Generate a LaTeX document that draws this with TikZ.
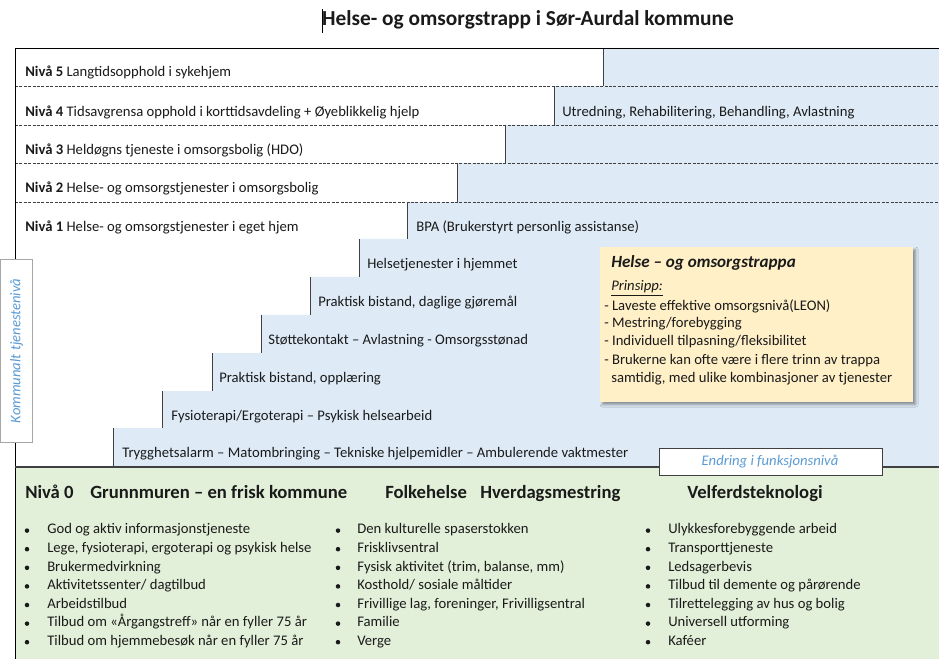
\documentclass[tikz,border=0pt]{standalone}
\usepackage{fontspec}
\setmainfont{Carlito}
\usetikzlibrary{shadows.blur}
\definecolor{stairblue}{HTML}{DEEBF7}
\definecolor{basegreen}{HTML}{E2F0D9}
\definecolor{noteyellow}{HTML}{FFF0C8}
\definecolor{labelblue}{HTML}{5B9BD5}
\definecolor{ink}{HTML}{1A1A1A}
\definecolor{edgegray}{HTML}{404040}
\begin{document}
\begin{tikzpicture}[x=0.75pt,y=-0.75pt,
  rowtext/.style={anchor=west, inner sep=0pt, yshift=-1.2pt, text=ink, text height=0.7em, text depth=0.2em, font=\fontsize{11}{13}\selectfont},
  headtext/.style={anchor=west, inner sep=0pt, yshift=-1.2pt, text=ink, text height=0.7em, text depth=0.2em, font=\fontsize{14}{16}\selectfont\bfseries},
  bullettext/.style={anchor=west, inner sep=0pt, yshift=-1.2pt, text=ink, text height=0.7em, text depth=0.2em, font=\fontsize{11}{13}\selectfont},
  bulletdot/.style={circle, fill=ink, inner sep=0pt, yshift=-1.2pt, minimum size=3.4pt},
  notetext/.style={anchor=west, inner sep=0pt, yshift=-1pt, text=ink, text height=0.7em, text depth=0.2em, font=\fontsize{11}{13}\selectfont},
  stepedge/.style={draw=edgegray, line width=0.6pt},
  rowsep/.style={draw=edgegray, dash pattern=on 2.2pt off 1.1pt, line width=0.5pt}
]
\useasboundingbox (0,0) rectangle (939,659);
\fill[white] (0,0) rectangle (939,659);

% title
\node[anchor=center, inner sep=0pt, text=ink, font=\fontsize{16}{18}\selectfont\bfseries] (title) at (528,20) {Helse- og omsorgstrapp i Sør-Aurdal kommune};
\draw[black, line width=0.5pt] (322,9) -- (322,33);

% blue staircase region
\fill[stairblue] (603,48) -- (939,48) -- (939,467) -- (113,467) -- (113,428) -- (162,428) -- (162,391) -- (212,391) -- (212,353) -- (261,353) -- (261,315) -- (310,315) -- (310,277) -- (359,277) -- (359,239) -- (407,239) -- (407,202) -- (457,202) -- (457,163) -- (505,163) -- (505,125) -- (554,125) -- (554,86) -- (603,86) -- cycle;

% green base
\fill[basegreen] (15,467) rectangle (939,659);

% row separators
\foreach \yy in {86,125,163,202} \draw[rowsep] (15,\yy) -- (939,\yy);

% step edges
\draw[stepedge] (603,48) -- (603,86);
\draw[stepedge] (554,86) -- (554,125);
\draw[stepedge] (505,125) -- (505,163);
\draw[stepedge] (457,163) -- (457,202);
\draw[stepedge] (407,202) -- (407,239);
\draw[stepedge] (359,239) -- (359,277);
\draw[stepedge] (310,277) -- (310,315);
\draw[stepedge] (261,315) -- (261,353);
\draw[stepedge] (212,353) -- (212,391);
\draw[stepedge] (162,391) -- (162,428);
\draw[stepedge] (113,428) -- (113,467);

% frame
\draw[black, line width=0.7pt] (939,48) -- (15,48) -- (15,659);
\draw[edgegray, line width=0.9pt] (15,467) -- (939,467);

% level rows
\node[rowtext] (n5) at (25,72) {\textbf{Nivå 5} Langtidsopphold i sykehjem};
\node[rowtext] (n4) at (25,112) {\textbf{Nivå 4} Tidsavgrensa opphold i korttidsavdeling + Øyeblikkelig hjelp};
\node[rowtext] (n3) at (25,150) {\textbf{Nivå 3} Heldøgns tjeneste i omsorgsbolig (HDO)};
\node[rowtext] (n2) at (25,188) {\textbf{Nivå 2} Helse- og omsorgstjenester i omsorgsbolig};
\node[rowtext] (n1) at (25,227) {\textbf{Nivå 1} Helse- og omsorgstjenester i eget hjem};
\node[rowtext] (utr) at (562,112) {Utredning, Rehabilitering, Behandling, Avlastning};
\node[rowtext] (bpa) at (416,227) {BPA (Brukerstyrt personlig assistanse)};
\node[rowtext] (s1) at (367,264) {Helsetjenester i hjemmet};
\node[rowtext] (s2) at (318,302) {Praktisk bistand, daglige gjøremål};
\node[rowtext] (s3) at (268,340) {Støttekontakt – Avlastning - Omsorgsstønad};
\node[rowtext] (s4) at (219,378) {Praktisk bistand, opplæring};
\node[rowtext] (s5) at (171,416) {Fysioterapi/Ergoterapi – Psykisk helsearbeid};
\node[rowtext] (s6) at (122,453) {Trygghetsalarm – Matombringing – Tekniske hjelpemidler – Ambulerende vaktmester};

% note box
\path[fill=noteyellow, blur shadow={shadow xshift=2pt, shadow yshift=-2pt, shadow blur steps=6, shadow opacity=40}] (600,247) rectangle (913,402);
\node[notetext, font=\fontsize{12.8}{15}\selectfont\bfseries\itshape] (nt) at (611,263) {Helse – og omsorgstrappa};
\node[notetext, font=\fontsize{11}{13}\selectfont\itshape] (np) at (611,286) {\underline{Prinsipp:}};
\node[notetext] (nl1) at (604,306) {- Laveste effektive omsorgsnivå(LEON)};
\node[notetext] (nl2) at (604,323) {- Mestring/forebygging};
\node[notetext] (nl3) at (604,341) {- Individuell tilpasning/fleksibilitet};
\node[notetext] (nl4) at (604,360) {- Brukerne kan ofte være i flere trinn av trappa};
\node[notetext] (nl5) at (611,378) {samtidig, med ulike kombinasjoner av tjenester};

% side label
\node[draw=gray!70, fill=white, line width=0.6pt, minimum width=32*0.75pt, minimum height=183*0.75pt, inner sep=0pt, anchor=north west] (side) at (0,259) {};
\node[rotate=90, inner sep=0pt, text=labelblue, font=\fontsize{11}{13}\selectfont\itshape] (sidet) at (side.center) {Kommunalt tjenestenivå};

% change box
\node[draw=edgegray, fill=white, line width=0.6pt, minimum width=223*0.75pt, minimum height=27*0.75pt, inner sep=0pt, anchor=north west] (chg) at (659,448) {};
\node[inner sep=0pt, text=labelblue, font=\fontsize{11}{13}\selectfont\itshape] (chgt) at (770,462) {Endring i funksjonsnivå};

% base headings
\node[headtext] (h0) at (25,494) {Nivå 0};
\node[headtext] (h1) at (90,494) {Grunnmuren – en frisk kommune};
\node[headtext] (h2) at (385,494) {Folkehelse};
\node[headtext] (h3) at (480,494) {Hverdagsmestring};
\node[headtext] (h4) at (687,494) {Velferdsteknologi};

% bullet columns
\foreach \t [count=\i] in {God og aktiv informasjonstjeneste,{Lege, fysioterapi, ergoterapi og psykisk helse},Brukermedvirkning,Aktivitetssenter/ dagtilbud,Arbeidstilbud,Tilbud om «Årgangstreff» når en fyller 75 år,Tilbud om hjemmebesøk når en fyller 75 år}{
  \node[bulletdot] (ba\i) at (27,{529+18.6*(\i-1)}) {};
  \node[bullettext] (ta\i) at (47,{529+18.6*(\i-1)}) {\t};
}
\foreach \t [count=\i] in {Den kulturelle spaserstokken,Frisklivsentral,{Fysisk aktivitet (trim, balanse, mm)},Kosthold/ sosiale måltider,{Frivillige lag, foreninger, Frivilligsentral},Familie,Verge}{
  \node[bulletdot] (bb\i) at (338,{529+18.6*(\i-1)}) {};
  \node[bullettext] (tb\i) at (357,{529+18.6*(\i-1)}) {\t};
}
\foreach \t [count=\i] in {Ulykkesforebyggende arbeid,Transporttjeneste,Ledsagerbevis,Tilbud til demente og pårørende,Tilrettelegging av hus og bolig,Universell utforming,Kaféer}{
  \node[bulletdot] (bc\i) at (648,{529+18.6*(\i-1)}) {};
  \node[bullettext] (tc\i) at (668,{529+18.6*(\i-1)}) {\t};
}
\end{tikzpicture}
\end{document}
